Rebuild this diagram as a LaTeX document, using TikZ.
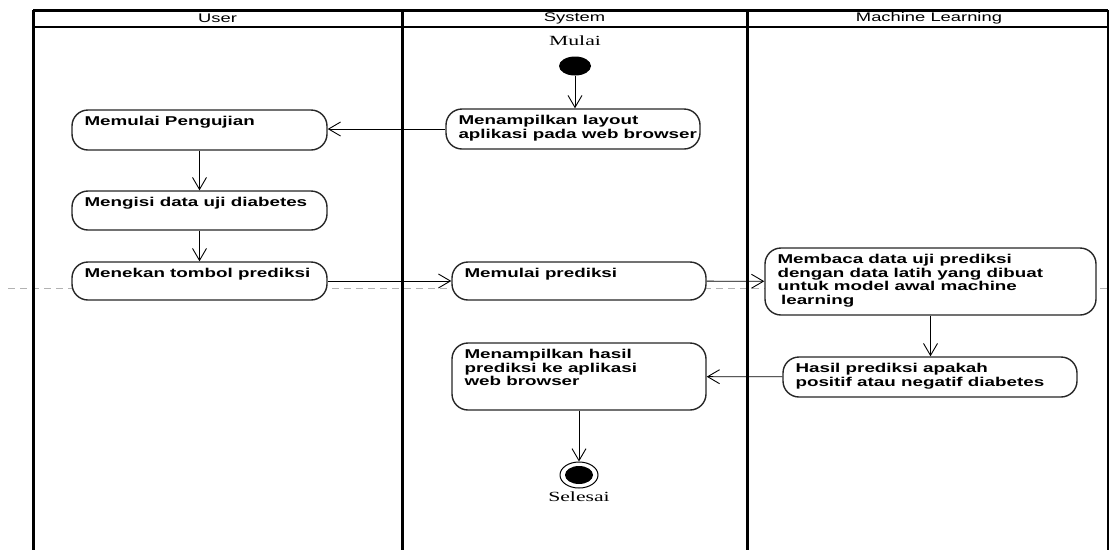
\documentclass[tikz,border=0pt]{standalone}
\usepackage{fontspec}
\newfontfamily\lanefont{Liberation Sans}[FakeStretch=1.47]
\newfontfamily\termfont{Liberation Serif}[FakeStretch=1.55]
\usetikzlibrary{arrows.meta,shapes.geometric}

\tikzset{
  lane/.style={line width=3pt},
  head/.style={font=\lanefont\fontsize{12.5}{14}\selectfont},
  act/.style={draw=black!85, line width=1.4pt, rounded corners=16pt, fill=white, inner sep=0pt},
  lbl/.style={anchor=north west, xshift=13pt, yshift=-7pt, inner sep=0pt, align=left,
    font=\lanefont\bfseries\fontsize{12.8}{13.6}\selectfont},
  term/.style={font=\termfont\fontsize{14}{16}\selectfont},
  flow/.style={line width=0.9pt, -{Straight Barb[length=12pt,width=14pt,line width=0.9pt]}},
}

\begin{document}
\begin{tikzpicture}[x=1pt,y=-1pt]
  \useasboundingbox (0,0) rectangle (1111,550);

  % separator behind everything
  \draw[black!30, line width=0.8pt, dash pattern=on 7pt off 5pt] (8,288) -- (1111,288);

  % swimlanes
  \draw[lane] (33,10) -- (1108,10);
  \draw[line width=1.4pt] (33,27) -- (1108,27);
  \draw[lane] (33,10) -- (33,550);
  \draw[lane] (402,10) -- (402,550);
  \draw[lane] (747,10) -- (747,550);
  \draw[line width=1.6pt] (1108,10) -- (1108,550);
  \node[head] (userhead) at (217.5,18.5) {User};
  \node[head] (syshead) at (574.5,18.5) {System};
  \node[head] (mlhead) at (929,18.5) {Machine Learning};

  % start / end
  \node[term] (mulai) at (575,41) {Mulai};
  \node[ellipse, fill=black, minimum width=32pt, minimum height=19pt, inner sep=0pt] (start) at (575,66) {};
  \node[ellipse, draw, line width=1pt, minimum width=38pt, minimum height=26pt, inner sep=0pt] (finish) at (579,475) {};
  \node[ellipse, fill=black, minimum width=28pt, minimum height=18pt, inner sep=0pt] (finishdot) at (finish) {};
  \node[term] (selesai) at (579,497) {Selesai};

  % activities
  \node[act, minimum width=254pt, minimum height=40pt,
    label={[lbl]north west:{Menampilkan layout\\aplikasi pada web browser}}] (layout) at (573,129) {};
  \node[act, minimum width=255pt, minimum height=40pt,
    label={[lbl]north west:Memulai Pengujian}] (pengujian) at (199.5,130) {};
  \node[act, minimum width=255pt, minimum height=39pt,
    label={[lbl]north west:Mengisi data uji diabetes}] (mengisi) at (199.5,210.5) {};
  \node[act, minimum width=255pt, minimum height=38pt,
    label={[lbl]north west:Menekan tombol prediksi}] (menekan) at (199.5,281) {};
  \node[act, minimum width=254pt, minimum height=38pt,
    label={[lbl]north west:Memulai prediksi}] (mulaipred) at (579,281) {};
  \node[act, minimum width=331pt, minimum height=67pt,
    label={[lbl]north west:{Membaca data uji prediksi\\dengan data latih yang dibuat\\untuk model awal machine\\\hspace*{0.28em}learning}}] (membaca) at (930.5,281.5) {};
  \node[act, minimum width=294pt, minimum height=40pt,
    label={[lbl]north west:{Hasil prediksi apakah\\positif atau negatif diabetes}}] (hasil) at (930,377) {};
  \node[act, minimum width=254pt, minimum height=67pt,
    label={[lbl]north west:{Menampilkan hasil\\prediksi ke aplikasi\\web browser}}] (tampilhasil) at (579,376.5) {};

  % flows
  \draw[flow] (start) -- (start |- layout.north);
  \draw[flow] (layout.west) -- (layout.west -| pengujian.east);
  \draw[flow] (pengujian) -- (mengisi);
  \draw[flow] (mengisi) -- (menekan);
  \draw[flow] (menekan) -- (mulaipred);
  \draw[flow] (mulaipred) -- (membaca);
  \draw[flow] (membaca) -- (membaca |- hasil.north);
  \draw[flow] (hasil) -- (tampilhasil);
  \draw[flow] (tampilhasil) -- (finish);
\end{tikzpicture}
\end{document}
